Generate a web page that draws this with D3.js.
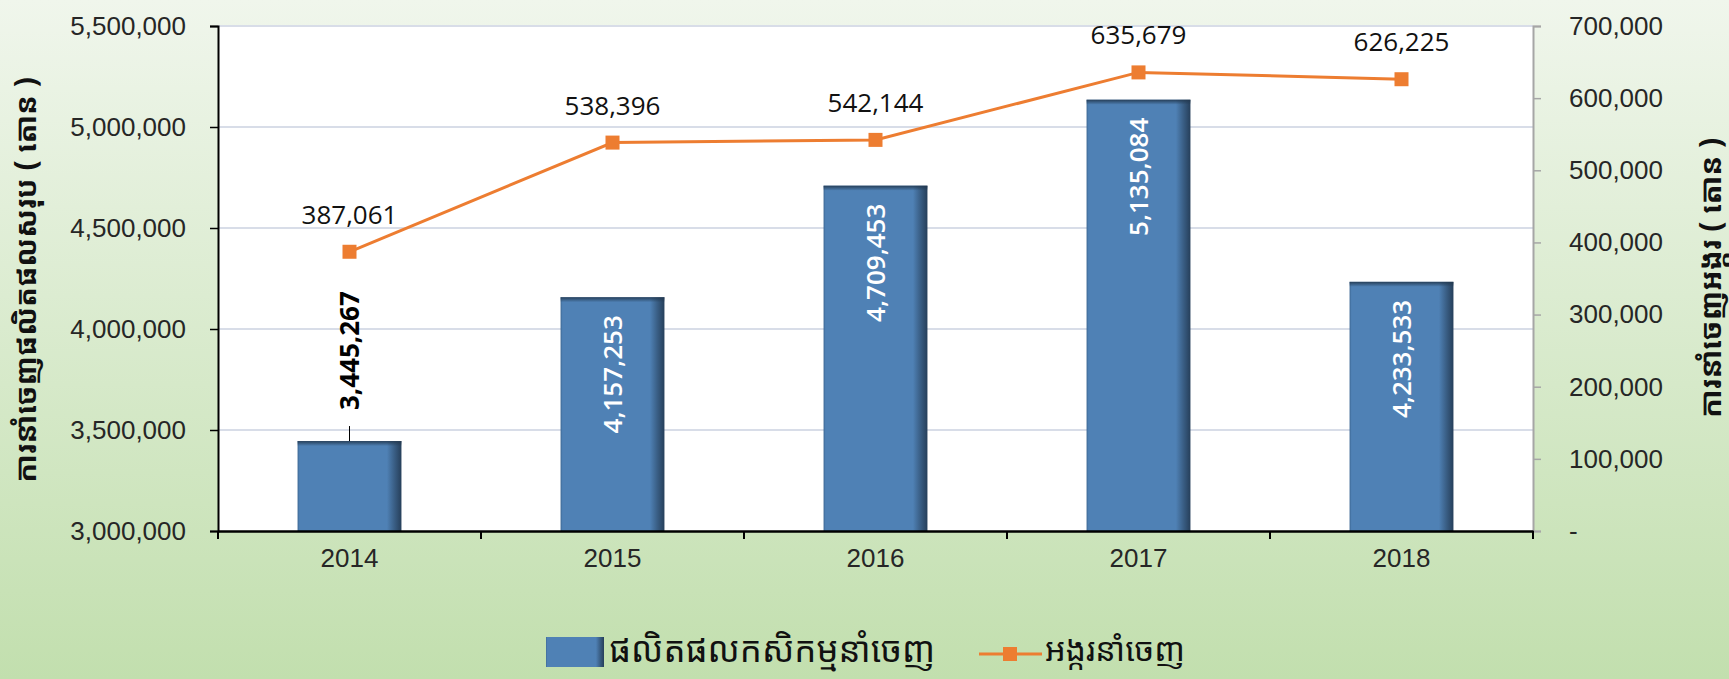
<!DOCTYPE html>
<html>
<head>
<meta charset="utf-8">
<script src="https://cdn.jsdelivr.net/npm/d3@7/dist/d3.min.js"></script>
<style>
  html, body { margin: 0; padding: 0; }
  body { width: 1729px; height: 679px; overflow: hidden; }
  svg text { font-family: "Liberation Sans", Arial, sans-serif; }
  .kh { font-family: "Noto Sans Khmer", "Khmer OS", "Noto Sans", "DejaVu Sans", sans-serif; }
</style>
</head>
<body>
<svg id="chart" width="1729" height="679"></svg>
<script>
// data
const years = ['2014', '2015', '2016', '2017', '2018'];
const exportTotal = [3445267, 4157253, 4709453, 5135084, 4233533];
const exportRice = [387061, 538396, 542144, 635679, 626225];
const leftTicks = [3000000, 3500000, 4000000, 4500000, 5000000, 5500000];
const rightTicks = [0, 100000, 200000, 300000, 400000, 500000, 600000, 700000];
const leftTitle = 'ការនាំចេញផលិតផលសរុប ( តោន )';
const rightTitle = 'ការនាំចេញអង្ករ ( តោន )';
const legendNames = ['ផលិតផលកសិកម្មនាំចេញ', 'អង្ករនាំចេញ'];

const W = 1729, H = 679;
const plot = { left: 218, right: 1533, top: 26, bottom: 531 };
const BLUE = '#4f81b5', ORANGE = '#ed7d31';

const svg = d3.select('#chart');
const defs = svg.append('defs');

const bg = defs.append('linearGradient').attr('id', 'bg')
    .attr('x1', 0).attr('y1', 0).attr('x2', 0).attr('y2', 1);
bg.append('stop').attr('offset', '0%').attr('stop-color', '#f0f6ec');
bg.append('stop').attr('offset', '100%').attr('stop-color', '#c2dfae');

// bar shading: dark right edge
const barGrad = defs.append('linearGradient').attr('id', 'barGrad')
    .attr('x1', 0).attr('y1', 0).attr('x2', 1).attr('y2', 0);
barGrad.append('stop').attr('offset', '0%').attr('stop-color', '#3d6894');
barGrad.append('stop').attr('offset', '2%').attr('stop-color', BLUE);
barGrad.append('stop').attr('offset', '86%').attr('stop-color', BLUE);
barGrad.append('stop').attr('offset', '93%').attr('stop-color', '#3a5f86');
barGrad.append('stop').attr('offset', '100%').attr('stop-color', '#263f5a');

const topGrad = defs.append('linearGradient').attr('id', 'topGrad')
    .attr('x1', 0).attr('y1', 0).attr('x2', 0).attr('y2', 1);
topGrad.append('stop').attr('offset', '0%').attr('stop-color', '#22384f').attr('stop-opacity', 0.9);
topGrad.append('stop').attr('offset', '100%').attr('stop-color', '#22384f').attr('stop-opacity', 0);

svg.append('rect').attr('width', W).attr('height', H).attr('fill', 'url(#bg)');
svg.append('rect')
    .attr('x', plot.left).attr('y', plot.top)
    .attr('width', plot.right - plot.left).attr('height', plot.bottom - plot.top)
    .attr('fill', '#ffffff');

const x = d3.scaleBand().domain(years).range([plot.left, plot.right]).padding(0);
const yL = d3.scaleLinear().domain([3000000, 5500000]).range([plot.bottom, plot.top]);
const yR = d3.scaleLinear().domain([0, 700000]).range([plot.bottom, plot.top]);
const fmt = d3.format(',');

// shrink/grow a label's font so its run length matches the reference
function fitText(sel, target) {
    const fs = +sel.attr('font-size');
    const len = sel.node().getComputedTextLength();
    if (len > 0) sel.attr('font-size', (fs * target / len).toFixed(1));
}

// gridlines
svg.append('g').selectAll('line')
    .data(leftTicks.filter(d => d > 3000000))
    .join('line')
    .attr('x1', plot.left).attr('x2', plot.right)
    .attr('y1', d => yL(d)).attr('y2', d => yL(d))
    .attr('stroke', '#d8dde8').attr('stroke-width', 2);

// bars
const barW = x.bandwidth() * 0.395;
const bars = svg.append('g');
years.forEach((yr, i) => {
    const cx = x(yr) + x.bandwidth() / 2;
    const top = yL(exportTotal[i]);
    bars.append('rect')
        .attr('x', cx - barW / 2).attr('y', top)
        .attr('width', barW).attr('height', plot.bottom - top)
        .attr('fill', 'url(#barGrad)');
    bars.append('rect')
        .attr('x', cx - barW / 2).attr('y', top)
        .attr('width', barW).attr('height', 5)
        .attr('fill', 'url(#topGrad)');
});

// bar labels
years.forEach((yr, i) => {
    const cx = x(yr) + x.bandwidth() / 2;
    const top = yL(exportTotal[i]);
    if (i === 0) {
        svg.append('line')
            .attr('x1', cx).attr('x2', cx)
            .attr('y1', top - 15).attr('y2', top)
            .attr('stroke', '#000').attr('stroke-width', 1);
        svg.append('text')
            .attr('transform', `translate(${cx},${top - 31}) rotate(-90)`)
            .attr('text-anchor', 'start').attr('dy', '0.36em')
            .style('font-family', '"Open Sans", sans-serif')
            .attr('font-size', 26).attr('font-weight', 'bold').attr('fill', '#000')
            .text(fmt(exportTotal[i]));
    } else {
        svg.append('text')
            .attr('transform', `translate(${cx},${top + 18}) rotate(-90)`)
            .attr('text-anchor', 'end').attr('dy', '0.36em')
            .style('font-family', '"Open Sans", sans-serif')
            .attr('font-size', 26).attr('font-weight', 600).attr('fill', '#ffffff')
            .text(fmt(exportTotal[i]));
    }
});

// left axis
const axL = svg.append('g').attr('transform', `translate(${plot.left},0)`)
    .call(d3.axisLeft(yL).tickValues(leftTicks).tickFormat(fmt).tickSize(8).tickPadding(24));
axL.select('.domain').attr('stroke', '#000').attr('stroke-width', 2);
axL.selectAll('.tick line').attr('stroke', '#000').attr('stroke-width', 1.5);
axL.selectAll('.tick text').attr('font-size', 26).attr('fill', '#262626')
    .style('font-family', '"Liberation Sans", Arial, sans-serif');

// right axis
const axR = svg.append('g').attr('transform', `translate(${plot.right},0)`)
    .call(d3.axisRight(yR).tickValues(rightTicks)
        .tickFormat(d => d === 0 ? '-' : fmt(d)).tickSize(8).tickPadding(28));
axR.select('.domain').attr('stroke', '#a6a6a6').attr('stroke-width', 2);
axR.selectAll('.tick line').attr('stroke', '#a6a6a6').attr('stroke-width', 1.5);
axR.selectAll('.tick text').attr('font-size', 26).attr('fill', '#262626')
    .style('font-family', '"Liberation Sans", Arial, sans-serif');

// x axis
const axX = svg.append('g').attr('transform', `translate(0,${plot.bottom})`)
    .call(d3.axisBottom(x).tickSize(0).tickPadding(18));
axX.select('.domain').attr('stroke', '#000').attr('stroke-width', 2.5);
axX.selectAll('.tick text').attr('font-size', 26).attr('fill', '#262626')
    .style('font-family', '"Liberation Sans", Arial, sans-serif');
// category boundary ticks
svg.append('g').selectAll('line')
    .data(years.concat(['end']))
    .join('line')
    .attr('x1', (d, i) => plot.left + i * x.step())
    .attr('x2', (d, i) => plot.left + i * x.step())
    .attr('y1', plot.bottom).attr('y2', plot.bottom + 8)
    .attr('stroke', '#000').attr('stroke-width', 2);

// rice line
const line = d3.line()
    .x((d, i) => x(years[i]) + x.bandwidth() / 2)
    .y(d => yR(d));
svg.append('path').datum(exportRice)
    .attr('d', line).attr('fill', 'none')
    .attr('stroke', ORANGE).attr('stroke-width', 3);
svg.append('g').selectAll('rect')
    .data(exportRice)
    .join('rect')
    .attr('x', (d, i) => x(years[i]) + x.bandwidth() / 2 - 7)
    .attr('y', d => yR(d) - 7)
    .attr('width', 14).attr('height', 14)
    .attr('fill', ORANGE);
svg.append('g').selectAll('text')
    .data(exportRice)
    .join('text')
    .attr('x', (d, i) => x(years[i]) + x.bandwidth() / 2)
    .attr('y', d => yR(d) - 28)
    .attr('text-anchor', 'middle')
    .style('font-family', '"Open Sans", sans-serif')
    .attr('font-size', 26).attr('fill', '#111')
    .text(d => fmt(d));

// axis titles
const tL = svg.append('text').attr('class', 'kh')
    .attr('transform', `translate(26,280) rotate(-90)`)
    .attr('text-anchor', 'middle').attr('dy', '0.35em')
    .attr('font-size', 30).attr('font-weight', 'bold').attr('fill', '#111')
    .text(leftTitle);
fitText(tL, 405);
const tR = svg.append('text').attr('class', 'kh')
    .attr('transform', `translate(1711,278) rotate(-90)`)
    .attr('text-anchor', 'middle').attr('dy', '0.35em')
    .attr('font-size', 26).attr('font-weight', 'bold').attr('fill', '#111')
    .text(rightTitle);
fitText(tR, 280);

// legend
const lg = svg.append('g');
lg.append('rect').attr('x', 546).attr('y', 637).attr('width', 58).attr('height', 30)
    .attr('fill', 'url(#barGrad)');
const l1 = lg.append('text').attr('class', 'kh')
    .attr('x', 609).attr('y', 650).attr('dy', '0.35em')
    .attr('font-size', 34).attr('fill', '#111')
    .text(legendNames[0]);
fitText(l1, 326);
lg.append('line').attr('x1', 979).attr('x2', 1042).attr('y1', 654).attr('y2', 654)
    .attr('stroke', ORANGE).attr('stroke-width', 3);
lg.append('rect').attr('x', 1003).attr('y', 647).attr('width', 14).attr('height', 14)
    .attr('fill', ORANGE);
const l2 = lg.append('text').attr('class', 'kh')
    .attr('x', 1045).attr('y', 650).attr('dy', '0.35em')
    .attr('font-size', 32).attr('fill', '#111')
    .text(legendNames[1]);
fitText(l2, 140);
</script>
</body>
</html>
